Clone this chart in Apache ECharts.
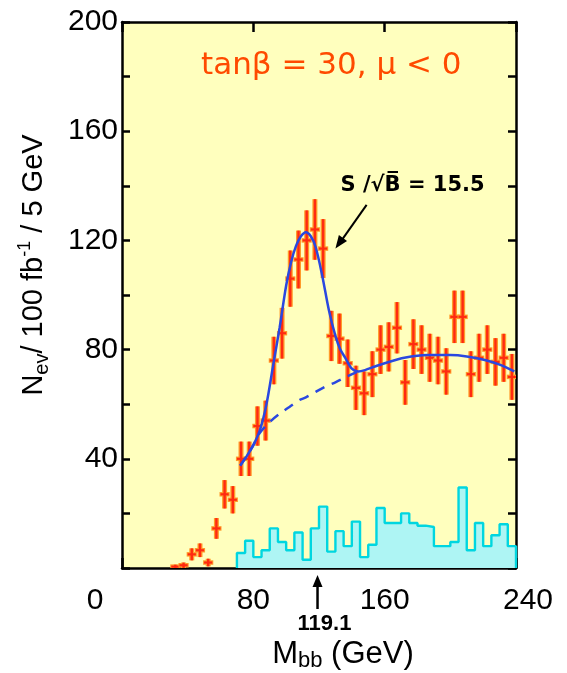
<!DOCTYPE html>
<html><head><meta charset="utf-8">
<script src="https://cdn.jsdelivr.net/npm/echarts@6/dist/echarts.min.js"></script>
<style>html,body{margin:0;padding:0;background:#fff}#c{width:567px;height:673px}</style>
</head><body><div id="c"></div>
<script>
// ---- data ----
const binCenters = [32.5,37.5,42.5,47.5,52.5,57.5,62.5,67.5,72.5,77.5,82.5,87.5,92.5,97.5,102.5,107.5,112.5,117.5,122.5,127.5,132.5,137.5,142.5,147.5,152.5,157.5,162.5,167.5,172.5,177.5,182.5,187.5,192.5,197.5,202.5,207.5,212.5,217.5,222.5,227.5,232.5,237.5];
const counts     = [0.5,1,5,6.5,2,14.5,27,25,40,40,52,54,76,86,106,113,120,124,117,85,84,75,66,64,71,80,81,88,68,82,80,77,76,72,92,92,71,77,80,75.5,77,70];
const countErrs  = [0.7,1,2.2,2.5,1.4,3.8,5.2,5,6.3,6.3,7.2,7.3,8.7,9.3,10.3,10.6,11,11.1,10.8,9.2,9.2,8.7,8.1,8,8.4,8.9,9,9.4,8.2,9.1,8.9,8.8,8.7,8.5,9.6,9.6,8.4,8.8,8.9,8.7,8.8,8.4];
const binHalfWidth = 2.5;

const histEdges  = [70,75,80,85,90,95,100,105,110,115,120,125,130,135,140,145,150,155,160,165,170,175,180,185,190,195,200,205,210,215,220,225,230,235];
const histCounts = [5.5,10,4,6.5,14.5,9.5,6.5,13,3,14.5,22.5,6,13.5,8,17,4,8.5,22,16.5,16.5,20,16.5,15.5,15,8,8,9.5,29.5,6.5,16.5,8,12,16,8];
const histEnd = 240;

const fitX = [72,76,80,84,88,92,96,100,103,106,109,112,115,118,122,126,130,133,136,140,144,148,154,160,172,186,200,210,221,230,239];
const fitY = [37.5,41,45,50.5,60,74,88,103.5,112,118,121.5,123,121.5,117.5,107,94.5,85,80,77,73,72,72.5,73.8,75,77,78,78,77.5,76.2,74.5,72];

const bkgX = [72,76,80,84,90,96,102,108,112,118,124,130,136,142,146];
const bkgY = [37.5,41,45,49.5,53.5,56.5,59,61.5,62.5,64.5,66.5,68,69.8,71.5,72.3];

const xTickLabels = [0,80,160,240];
const yTickLabels = [40,80,120,160,200];
const peakMass = 119.1;
const significance = 15.5;
const titleText = 'tanβ = 30, μ < 0';

// ---- build ----
const pointData = binCenters.map((x,i)=>[x,counts[i],countErrs[i]]);
const histData = [[histEdges[0],0]];
histEdges.forEach((e,i)=>histData.push([e,histCounts[i]]));
histData.push([histEnd,histCounts[histCounts.length-1]]);
histData.push([histEnd,0]);
const fitData = fitX.map((x,i)=>[x,fitY[i]]);
const bkgData = bkgX.map((x,i)=>[x,bkgY[i]]);

const FONT = 'Liberation Sans, Arial, sans-serif';
const WIDE = 'DejaVu Sans, sans-serif';
const axisLineStyle = {color:'#000', width:2.5};
const chart = echarts.init(document.getElementById('c'), null, {renderer:'canvas'});

const option = {
  backgroundColor:'#ffffff',
  animation:false,
  title:{text:titleText, left:201, top:50, padding:0,
    textStyle:{color:'#ff4a00', fontSize:31, fontWeight:'normal', fontFamily:WIDE}},
  grid:{left:122, right:51, top:22, bottom:105, show:true, backgroundColor:'#ffffbe', borderWidth:0, outerBoundsMode:'none', containLabel:false},
  xAxis:[
    {type:'value', min:0, max:240, interval:80, position:'bottom',
     axisLine:{onZero:false, lineStyle:axisLineStyle},
     axisTick:{inside:true, length:10, lineStyle:{color:'#000', width:2.5}},
     splitLine:{show:false},
     axisLabel:{margin:18, color:'#000', fontSize:30, fontFamily:FONT, showMinLabel:true, showMaxLabel:true,
       formatter:v=>{ if(!xTickLabels.includes(v)) return ''; if(v===0) return '{a|0}'; if(v===240) return '{b|240}'; return String(v); },
       rich:{a:{fontSize:30, fontFamily:FONT, color:'#000', padding:[0,54,0,0]}, b:{fontSize:30, fontFamily:FONT, color:'#000', padding:[0,0,0,24]}}},
     name:'{n|M}{s|bb}{n| (GeV)}', nameLocation:'middle', nameGap:68,
     nameTextStyle:{padding:[0,0,0,48], rich:{
       n:{fontSize:31, fontFamily:FONT, color:'#000', lineHeight:36},
       s:{fontSize:22, fontFamily:FONT, color:'#000', lineHeight:22, verticalAlign:'bottom'}}}
    },
    {type:'value', min:0, max:240, interval:80, position:'top',
     axisLine:{onZero:false, lineStyle:axisLineStyle},
     axisTick:{inside:true, length:10, lineStyle:{color:'#000', width:2.5}},
     axisLabel:{show:false}, splitLine:{show:false}}
  ],
  yAxis:[
    {type:'value', min:0, max:200, interval:20, position:'left',
     axisLine:{onZero:false, lineStyle:axisLineStyle},
     axisTick:{inside:true, length:8, lineStyle:{color:'#000', width:2.5}},
     splitLine:{show:false},
     axisLabel:{margin:4, color:'#000', fontSize:30, fontFamily:FONT, showMaxLabel:true,
       formatter:v=> yTickLabels.includes(v) ? String(v) : ''},
     name:'{n|N}{s|ev}{n|/ 100 fb}{p|-1}{n| / 5 GeV}', nameLocation:'middle', nameRotate:90, nameGap:70,
     nameTextStyle:{padding:[0,0,0,60], rich:{
       n:{fontSize:29, fontFamily:FONT, color:'#000', lineHeight:36},
       s:{fontSize:20, fontFamily:FONT, color:'#000', lineHeight:20, verticalAlign:'bottom'},
       p:{fontSize:18, fontFamily:FONT, color:'#000', lineHeight:18, verticalAlign:'top'}}}
    },
    {type:'value', min:0, max:200, interval:20, position:'right',
     axisLine:{onZero:false, lineStyle:axisLineStyle},
     axisTick:{inside:true, length:8, lineStyle:{color:'#000', width:2.5}},
     axisLabel:{show:false}, splitLine:{show:false}}
  ],
  series:[
    {type:'line', name:'hist', data:histData, step:'end', symbol:'none', z:2,
     lineStyle:{color:'#00d6e0', width:2.4},
     areaStyle:{color:'#aef5f4', opacity:1, origin:'start'}},
    {type:'custom', name:'points', data:pointData, z:3, clip:true,
     encode:{x:0, y:1},
     renderItem:(params, api)=>{
       const x=api.value(0), y=api.value(1), e=api.value(2);
       const t=api.coord([x,y+e]), b=api.coord([x,Math.max(0,y-e)]);
       const l=api.coord([x-binHalfWidth,y]), r=api.coord([x+binHalfWidth,y]);
       return {type:'group', children:[
         {type:'line', shape:{x1:t[0],y1:t[1],x2:b[0],y2:b[1]}, style:{stroke:'#ff9a2a', lineWidth:5}},
         {type:'line', shape:{x1:l[0]-1,y1:l[1],x2:r[0]+1,y2:r[1]}, style:{stroke:'#ff9a2a', lineWidth:4.5}},
         {type:'line', shape:{x1:t[0],y1:t[1],x2:b[0],y2:b[1]}, style:{stroke:'#ff2a10', lineWidth:2.4}},
         {type:'line', shape:{x1:l[0],y1:l[1],x2:r[0],y2:r[1]}, style:{stroke:'#ff2a10', lineWidth:2.2}}
       ]};
     }},
    {type:'line', name:'bkg', data:bkgData, smooth:0.3, symbol:'none', z:4,
     lineStyle:{color:'#2a48e0', width:2.5, type:[10,8]}},
    {type:'line', name:'fit', data:fitData, smooth:0.3, symbol:'none', z:5,
     lineStyle:{color:'#2a48e0', width:2.5}}
  ]
};
chart.setOption(option);

// ---- annotations positioned through the axes ----
function arrowHead(x1,y1,x2,y2,len,half){
  const dx=x2-x1, dy=y2-y1, L=Math.hypot(dx,dy), ux=dx/L, uy=dy/L;
  const bx=x2-ux*len, by=y2-uy*len;
  return [[x2,y2],[bx-uy*half,by+ux*half],[bx+uy*half,by-ux*half]];
}
const px = chart.convertToPixel({xAxisIndex:0}, peakMass);
const base = chart.convertToPixel({yAxisIndex:0}, 0);
const sA = chart.convertToPixel({xAxisIndex:0,yAxisIndex:0},[177,140]);
const aFrom = chart.convertToPixel({xAxisIndex:0,yAxisIndex:0},[149,133]);
const aTo = chart.convertToPixel({xAxisIndex:0,yAxisIndex:0},[130,117]);
chart.setOption({graphic:[
  {type:'line', shape:{x1:px, y1:base+41, x2:px, y2:base+16}, style:{stroke:'#000', lineWidth:2.5}, z:10},
  {type:'polygon', shape:{points:arrowHead(px,base+41,px,base+7,12,5)}, style:{fill:'#000'}, z:10},
  {type:'text', x:px+7, y:base+56, style:{text:String(peakMass), fill:'#000', font:'bold 22px '+FONT, align:'center', verticalAlign:'middle'}, z:10},
  {type:'text', x:sA[0], y:sA[1], style:{text:'S /\u221AB\u0305 = '+significance, fill:'#000', font:'bold 21px DejaVu Sans, sans-serif', align:'center', verticalAlign:'middle'}, z:10},
  {type:'line', shape:{x1:aFrom[0], y1:aFrom[1], x2:aTo[0]+6, y2:aTo[1]-8}, style:{stroke:'#000', lineWidth:2}, z:10},
  {type:'polygon', shape:{points:arrowHead(aFrom[0],aFrom[1],aTo[0],aTo[1],13,5)}, style:{fill:'#000'}, z:10}
]});
</script>
</body></html>
